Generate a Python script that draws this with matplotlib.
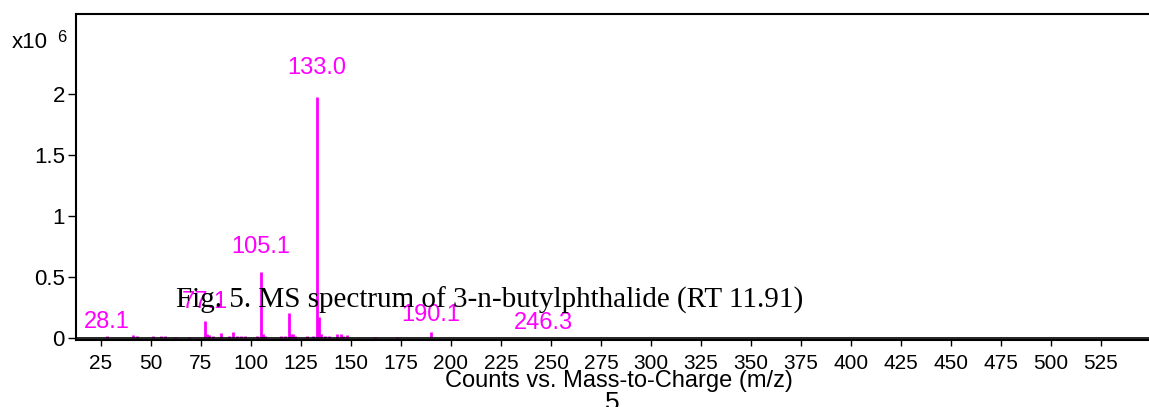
import matplotlib.pyplot as plt

# peak list (m/z, counts x1e6)
mz = [28, 41, 43, 51, 55, 57, 62, 69, 77, 78, 79, 81, 85, 89, 91, 93, 95, 97,
      103, 105, 106, 107, 115, 117, 119, 120, 121, 122, 128, 131, 133, 134,
      135, 137, 139, 143, 145, 146, 148, 162, 173, 190]
counts = [0.02, 0.025, 0.02, 0.015, 0.02, 0.015, 0.01, 0.01, 0.14, 0.03, 0.025,
          0.02, 0.04, 0.015, 0.05, 0.015, 0.02, 0.015,
          0.015, 0.54, 0.035, 0.02, 0.02, 0.015, 0.205, 0.03, 0.03, 0.015,
          0.02, 0.02, 1.975, 0.17, 0.03, 0.02, 0.015, 0.03, 0.03, 0.02, 0.025,
          0.01, 0.01, 0.05]

label_mz = [28.1, 77.1, 105.1, 133.0, 190.1, 246.3]
label_h = [0.0, 0.14, 0.54, 1.975, 0.05, 0.0]
label_off = [16, 19, 25, 29, 17, 15]   # px above peak top

xticks = list(range(25, 526, 25))
yticks = [0, 0.5, 1, 1.5, 2]

mag = '#ff00ff'

fig = plt.figure(figsize=(11.49, 4.07), dpi=100)
ax = fig.add_axes([76 / 1149, 1 - 340 / 407, 1 - 76 / 1149, 326 / 407])

ax.vlines(mz, 0, counts, color=mag, lw=2)
ax.axhline(0, color='black', lw=1.2)

for m, h, off in zip(label_mz, label_h, label_off):
    ax.annotate(f'{m:.1f}', (m, h), xytext=(0, off * 0.72), textcoords='offset points',
                ha='center', va='center', color=mag, fontsize=17, family='Liberation Sans')

ax.set_xlim(12.5, 549)
ax.set_ylim(-0.016, 2.656)
ax.set_xticks(xticks)
ax.set_yticks(yticks)
ax.set_yticklabels(['0', '0.5', '1', '1.5', '2'])
for lab in ax.get_xticklabels() + ax.get_yticklabels():
    lab.set_family('Liberation Sans')
ax.tick_params(axis='x', length=4, width=1, pad=6, labelsize=15)
ax.tick_params(axis='y', length=6, width=1, pad=2, labelsize=16)
for s in ['top', 'left', 'bottom']:
    ax.spines[s].set_linewidth(1.5)
ax.spines['right'].set_visible(False)

fig.text(12 / 1149, 1 - 43 / 407, 'x10', fontsize=16, family='Liberation Sans',
         ha='left', va='center')
fig.text(57 / 1149, 1 - 37 / 407, '6', fontsize=12, family='Liberation Sans',
         ha='left', va='center')
fig.text(619 / 1149, 1 - 381 / 407, 'Counts vs. Mass-to-Charge (m/z)', fontsize=17,
         family='Liberation Sans', ha='center', va='center')
fig.text(490 / 1149, 1 - 300 / 407, 'Fig. 5. MS spectrum of 3-n-butylphthalide (RT 11.91)',
         fontsize=21, family='Liberation Serif', ha='center', va='center')
fig.text(612 / 1149, 1 - 391 / 407, '5', fontsize=19, family='Liberation Sans',
         ha='center', va='top')

fig.savefig('out.png', dpi=100)
